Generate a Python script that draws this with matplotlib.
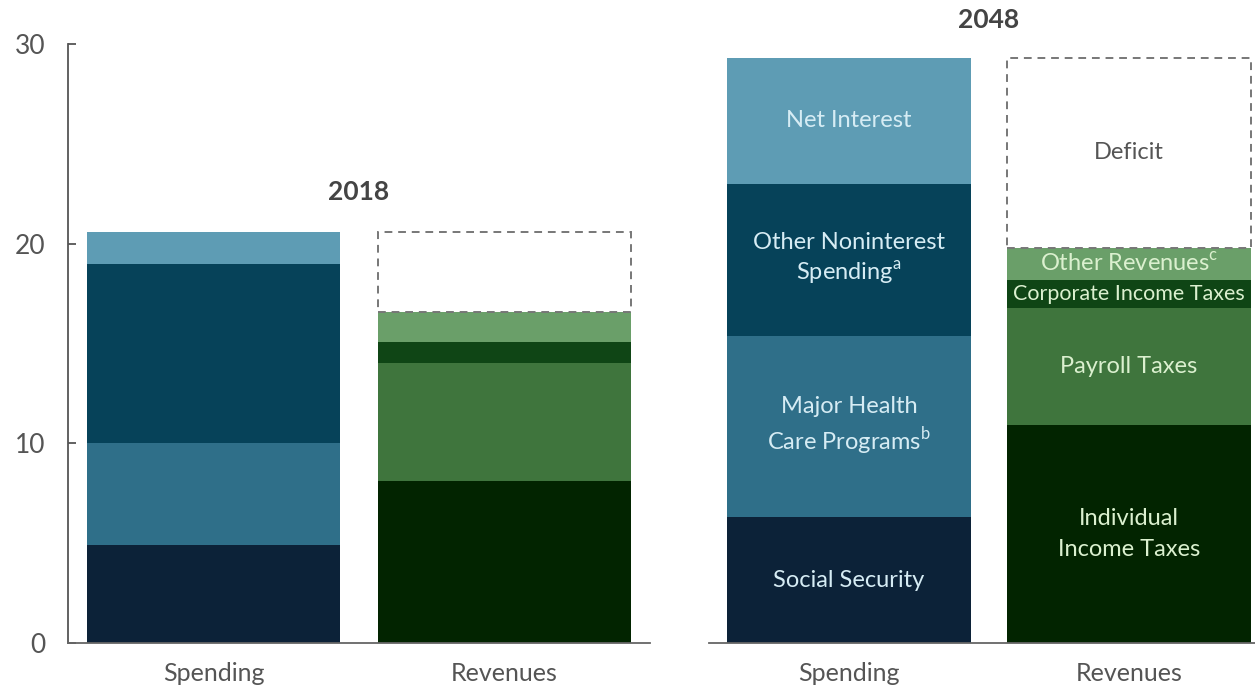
import matplotlib
matplotlib.use("Agg")
import matplotlib.pyplot as plt

plt.rcParams['font.family'] = ['Lato', 'DejaVu Sans']
plt.rcParams['mathtext.fontset'] = 'custom'
plt.rcParams['mathtext.rm'] = 'Lato'

# percent of GDP
years = ['2018', '2048']
bar_names = ['Spending', 'Revenues']

spend_labels = ['Social Security', 'Major Health\nCare Programs$^{\\mathrm{b}}$',
                'Other Noninterest\nSpending$^{\\mathrm{a}}$', 'Net Interest']
rev_labels = ['Individual\nIncome Taxes', 'Payroll Taxes',
              'Corporate Income Taxes', 'Other Revenues$^{\\mathrm{c}}$']

spend_2018 = [4.9, 5.1, 9.0, 1.6]
rev_2018 = [8.1, 5.9, 1.1, 1.5]
spend_2048 = [6.3, 9.1, 7.6, 6.3]
rev_2048 = [10.9, 5.9, 1.4, 1.6]

spend_colors = ['#0c2238', '#2f6f89', '#064259', '#5e9cb4']
rev_colors = ['#022400', '#3f753d', '#0f4515', '#6a9f69']
blue_text = '#d6ecf4'
green_text = '#dbf0cf'
gray = '#555555'

fig = plt.figure(figsize=(12.55, 6.88), dpi=100)
ax1 = fig.add_axes([0.0542, 0.0654, 0.4637, 0.8706])
ax2 = fig.add_axes([0.565, 0.0654, 0.435, 0.8706])


def stack(ax, x, values, colors, labels=None, text_color='white', width=0.87):
    bottom = 0
    for v, c, lab in zip(values, colors, labels or [None] * len(values)):
        ax.bar(x, v, bottom=bottom, width=width, color=c, linewidth=0)
        if lab:
            size = 15.5 if 'Corporate' in lab else 17
            # mathtext superscripts already make the line taller
            spacing = 1.3 if '$' in lab else 1.6
            ax.text(x, bottom + v / 2, lab, ha='center', va='center',
                    color=text_color, fontsize=size, linespacing=spacing)
        bottom += v
    return bottom


def panel(ax, spend, rev, year, year_y, labelled):
    s_total = stack(ax, 0, spend, spend_colors,
                    spend_labels if labelled else None, blue_text)
    r_total = stack(ax, 1, rev, rev_colors,
                    rev_labels if labelled else None, green_text)
    # deficit box
    ax.bar(1, s_total - r_total, bottom=r_total, width=0.87, fill=False,
           edgecolor='#777777', linestyle=(0, (4, 3)), linewidth=1.4)
    if labelled:
        ax.text(1, r_total + (s_total - r_total) / 2, 'Deficit', ha='center',
                va='center', color=gray, fontsize=17)
    ax.text(0.5, year_y, year, ha='center', va='center', fontsize=19,
            fontweight='bold', color='#444444', clip_on=False)
    ax.set_ylim(0, 30)
    ax.set_xticks([0, 1])
    ax.set_xticklabels(bar_names, fontsize=18, color=gray)
    ax.tick_params(axis='x', length=0, pad=14)
    for s in ['top', 'right']:
        ax.spines[s].set_visible(False)
    ax.spines['bottom'].set_color('#666666')
    ax.spines['bottom'].set_linewidth(1.3)


panel(ax1, spend_2018, rev_2018, years[0], 22.6, False)
ax1.set_xlim(-0.5, 1.5)
ax1.set_yticks([0, 10, 20, 30])
ax1.tick_params(axis='y', direction='in', length=6, width=1.3, color='#555555',
                labelsize=19, labelcolor=gray, pad=16)
ax1.spines['left'].set_color('#555555')
ax1.spines['left'].set_linewidth(1.3)

panel(ax2, spend_2048, rev_2048, years[1], 31.2, True)
ax2.set_xlim(-0.5, 1.45)
ax2.spines['left'].set_visible(False)
ax2.set_yticks([])

fig.savefig('out.png', dpi=100)
